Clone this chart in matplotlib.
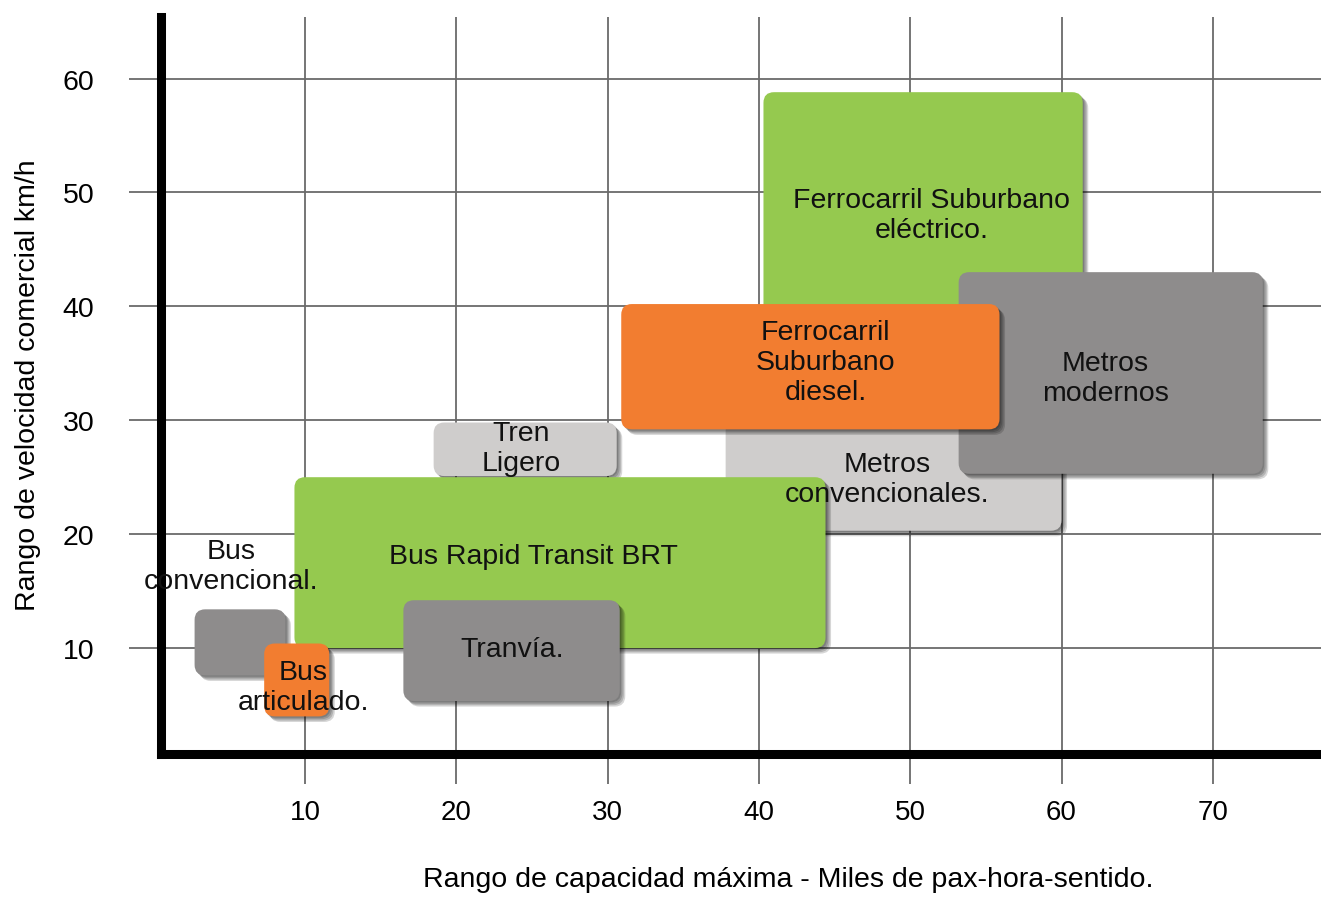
import matplotlib
matplotlib.use('Agg')
import matplotlib.pyplot as plt
import matplotlib.patheffects as pe
from matplotlib.patches import FancyBboxPatch

# ranges (capacity: miles pax-hora-sentido, speed: km/h)
modes = ['Ferrocarril Suburbano\neléctrico.', 'Metros\nconvencionales.', 'Metros\nmodernos',
         'Ferrocarril\nSuburbano\ndiesel.', 'Tren\nLigero', 'Bus Rapid Transit BRT',
         'Tranvía.', 'Bus\nconvencional.', 'Bus\narticulado.']
cap_min = [40.3, 37.8, 53.2, 30.9, 18.5, 9.3, 16.5, 2.7, 7.3]
cap_max = [61.4, 60.0, 73.3, 55.9, 30.6, 44.4, 30.8, 8.7, 11.6]
vel_min = [35.0, 20.3, 25.3, 29.2, 25.1, 10.0, 5.35, 7.6, 4.0]
vel_max = [58.8, 30.0, 43.0, 40.2, 29.8, 25.0, 14.2, 13.4, 10.4]
kind = ['green', 'light', 'dark', 'orange', 'light', 'green', 'dark', 'dark', 'orange']

x_ticks = [10, 20, 30, 40, 50, 60, 70]
y_ticks = [10, 20, 30, 40, 50, 60]

# where each label sits (data coords)
label_pos = [(51.4, 48.0), (48.5, 24.8), (62.9, 33.7), (44.4, 35.1), (24.3, 27.6),
             (25.1, 18.1), (23.7, 9.9), (5.1, 17.2), (9.9, 6.6)]

colors = {'green': '#95C94F', 'orange': '#F27D30', 'dark': '#8E8C8C', 'light': '#CFCDCC'}

plt.rcParams['font.family'] = ['Liberation Sans', 'DejaVu Sans']

fig = plt.figure(figsize=(13.21, 9.04), dpi=100)
ax = fig.add_axes([161 / 1321, 149 / 904, 1160 / 1321, 737 / 904])
ax.set_xlim(0.48, 77.15)
ax.set_ylim(0.7, 65.4)

# px per unit x / px per unit y, so the corners stay round
aspect = 15.13 / 11.4

# soft drop shadow: a few stacked offsets
shadow = [pe.SimplePatchShadow(offset=(k, -k), shadow_rgbFace='black', alpha=0.16) for k in (4, 3, 2, 1)]

for i in range(len(modes)):
    box = FancyBboxPatch((cap_min[i], vel_min[i]), cap_max[i] - cap_min[i], vel_max[i] - vel_min[i],
                         boxstyle='round,pad=0,rounding_size=0.7', mutation_aspect=aspect,
                         facecolor=colors[kind[i]], edgecolor='none', zorder=2 + i * 0.1)
    box.set_path_effects(shadow + [pe.Normal()])
    ax.add_patch(box)

for i in range(len(modes)):
    ax.text(label_pos[i][0], label_pos[i][1], modes[i], ha='center', va='center',
            fontsize=20.5, color='#111111', zorder=10, linespacing=1.2)

ax.set_xticks(x_ticks)
ax.set_yticks(y_ticks)
ax.grid(True, color='#6a6a6a', linewidth=1.3)
ax.set_axisbelow(True)
ax.tick_params(axis='x', length=21.6, width=1.3, color='#6a6a6a', pad=11, labelsize=20)
ax.tick_params(axis='y', length=23, width=1.3, color='#6a6a6a', pad=25, labelsize=20.5)

for s in ['top', 'right']:
    ax.spines[s].set_visible(False)
for s in ['left', 'bottom']:
    ax.spines[s].set_linewidth(6.5)
    ax.spines[s].set_color('black')
    ax.spines[s].set_capstyle('projecting')
    ax.spines[s].set_zorder(5)

fig.text(28 / 1321, 1 - 385 / 904, 'Rango de velocidad comercial km/h', rotation=90,
         ha='center', va='center', fontsize=20.5)
fig.text(788 / 1321, 1 - 880 / 904, 'Rango de capacidad máxima - Miles de pax-hora-sentido.',
         ha='center', va='center', fontsize=20.5)

fig.savefig('out.png', dpi=100)
